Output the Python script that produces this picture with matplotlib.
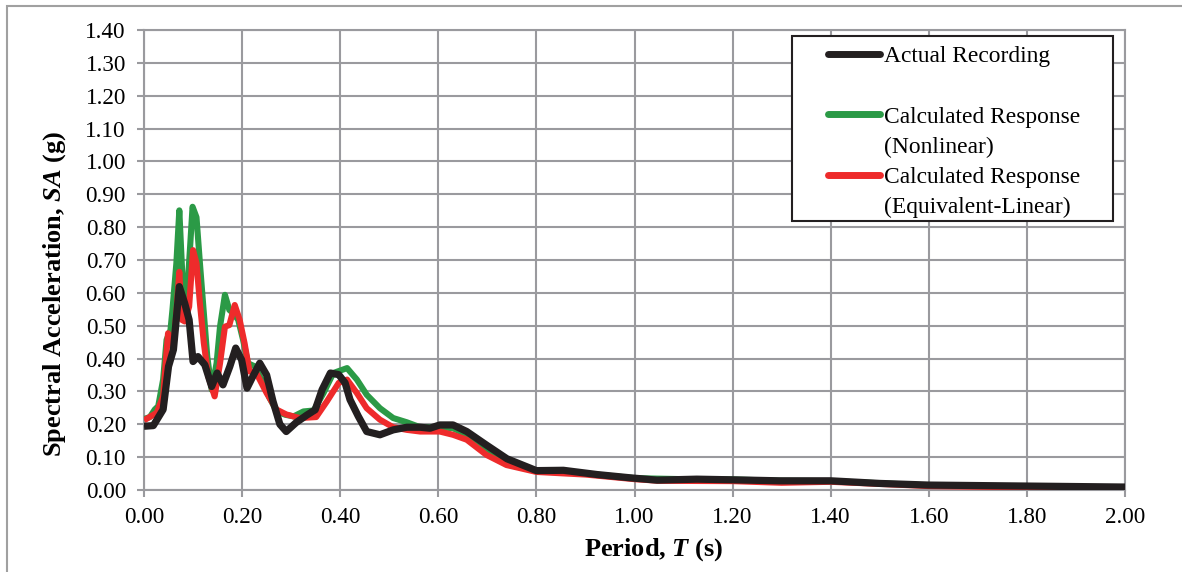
"""
Spectral acceleration response spectra: actual recording vs. calculated
(nonlinear and equivalent-linear) site response.
"""

import matplotlib
matplotlib.use("Agg")
import matplotlib.pyplot as plt
from matplotlib.lines import Line2D
from matplotlib.patches import Rectangle

plt.rcParams["font.family"] = ["Liberation Serif", "DejaVu Serif"]
plt.rcParams["mathtext.fontset"] = "custom"
plt.rcParams["mathtext.rm"] = "Liberation Serif"
plt.rcParams["mathtext.it"] = "Liberation Serif:italic"
plt.rcParams["mathtext.bf"] = "Liberation Serif:bold"
plt.rcParams["mathtext.bfit"] = "Liberation Serif:bold:italic"

# Actual recording
t_actual = [0.0, 0.019, 0.039, 0.05, 0.06, 0.072, 0.083, 0.092, 0.100, 0.110,
            0.124, 0.138, 0.149, 0.161, 0.175, 0.187, 0.199, 0.21, 0.222, 0.236,
            0.25, 0.263, 0.277, 0.29, 0.31, 0.332, 0.349, 0.363, 0.38, 0.397,
            0.41, 0.42, 0.437, 0.454, 0.481, 0.508, 0.536, 0.563, 0.583, 0.603,
            0.63, 0.658, 0.698, 0.74, 0.8, 0.855, 0.924, 0.992, 1.046, 1.127,
            1.2, 1.295, 1.4, 1.5, 1.6, 1.8, 2.0]
sa_actual = [0.194, 0.196, 0.245, 0.376, 0.427, 0.619, 0.568, 0.518, 0.391, 0.406,
             0.381, 0.315, 0.356, 0.32, 0.376, 0.432, 0.396, 0.31, 0.346, 0.386,
             0.35, 0.27, 0.2, 0.178, 0.205, 0.228, 0.244, 0.305, 0.356, 0.351,
             0.326, 0.275, 0.224, 0.178, 0.168, 0.183, 0.191, 0.191, 0.188, 0.198,
             0.198, 0.178, 0.137, 0.095, 0.059, 0.06, 0.047, 0.037, 0.03, 0.033,
             0.031, 0.028, 0.028, 0.02, 0.015, 0.012, 0.009]

# Calculated response (nonlinear)
t_nonlin = [0.0, 0.012, 0.022, 0.029, 0.039, 0.046, 0.054, 0.058, 0.066, 0.072,
            0.077, 0.081, 0.088, 0.094, 0.099, 0.107, 0.114, 0.122, 0.129, 0.138,
            0.148, 0.155, 0.165, 0.174, 0.182, 0.192, 0.202, 0.212, 0.226, 0.243,
            0.256, 0.271, 0.288, 0.305, 0.325, 0.346, 0.366, 0.386, 0.414, 0.434,
            0.454, 0.481, 0.508, 0.536, 0.563, 0.603, 0.63, 0.658, 0.698, 0.739,
            0.8, 0.9, 1.0, 1.1, 1.2, 1.3, 1.4, 1.6, 1.8, 2.0]
sa_nonlin = [0.216, 0.222, 0.245, 0.255, 0.336, 0.457, 0.487, 0.548, 0.69, 0.851,
             0.69, 0.578, 0.6, 0.74, 0.862, 0.83, 0.69, 0.538, 0.406, 0.305,
             0.386, 0.497, 0.594, 0.548, 0.538, 0.518, 0.457, 0.386, 0.376, 0.326,
             0.28, 0.239, 0.229, 0.224, 0.239, 0.242, 0.295, 0.356, 0.371, 0.336,
             0.29, 0.249, 0.219, 0.206, 0.191, 0.191, 0.188, 0.168, 0.127, 0.087,
             0.057, 0.05, 0.036, 0.033, 0.032, 0.028, 0.027, 0.014, 0.01, 0.008]

# Calculated response (equivalent-linear)
t_eqlin = [0.0, 0.026, 0.039, 0.049, 0.06, 0.066, 0.072, 0.077, 0.083, 0.092,
           0.1, 0.107, 0.114, 0.122, 0.131, 0.144, 0.155, 0.165, 0.174, 0.185,
           0.195, 0.205, 0.215, 0.229, 0.25, 0.27, 0.29, 0.317, 0.351, 0.373,
           0.397, 0.414, 0.434, 0.454, 0.481, 0.508, 0.536, 0.563, 0.603, 0.63,
           0.658, 0.698, 0.739, 0.8, 0.9, 1.0, 1.05, 1.2, 1.3, 1.4,
           1.6, 1.8, 2.0]
sa_eqlin = [0.212, 0.235, 0.285, 0.477, 0.437, 0.538, 0.664, 0.518, 0.513, 0.558,
            0.73, 0.69, 0.568, 0.447, 0.346, 0.285, 0.386, 0.497, 0.502, 0.563,
            0.518, 0.447, 0.361, 0.356, 0.295, 0.245, 0.23, 0.219, 0.222, 0.27,
            0.326, 0.336, 0.295, 0.249, 0.214, 0.191, 0.183, 0.178, 0.178, 0.168,
            0.153, 0.107, 0.076, 0.055, 0.047, 0.033, 0.028, 0.027, 0.022, 0.025,
            0.012, 0.008, 0.006]

x_ticks = [0.0, 0.2, 0.4, 0.6, 0.8, 1.0, 1.2, 1.4, 1.6, 1.8, 2.0]
y_ticks = [0.0, 0.1, 0.2, 0.3, 0.4, 0.5, 0.6, 0.7, 0.8, 0.9, 1.0, 1.1, 1.2, 1.3, 1.4]

BLACK = "#231f20"
GREEN = "#2b9a46"
RED = "#ee2b2b"
GRID = "#9a9a9e"

W, H = 1182, 572
fig = plt.figure(figsize=(W / 100, H / 100), dpi=100)
ax = fig.add_axes([144 / W, 1 - 490 / H, 981 / W, 460 / H])

# outer frame of the figure (only left/top edges visible)
fig.patches.append(Rectangle((7 / W, -0.1), 1.2, 1 - 6 / H + 0.1,
                             transform=fig.transFigure, fill=False,
                             edgecolor="#a0a0a0", lw=1.5))

kw = dict(solid_joinstyle="round", solid_capstyle="butt", zorder=3)
ax.plot(t_nonlin, sa_nonlin, color=GREEN, lw=4.4, **kw)
ax.plot(t_eqlin, sa_eqlin, color=RED, lw=4.4, **kw)
ax.plot(t_actual, sa_actual, color=BLACK, lw=5.2, **kw)

ax.set_xlim(0, 2.0)
ax.set_ylim(0, 1.4)
ax.set_xticks(x_ticks)
ax.set_yticks(y_ticks)
ax.set_xticklabels([f"{v:.2f}" for v in x_ticks])
ax.set_yticklabels([f"{v:.2f}" for v in y_ticks])
ax.tick_params(labelsize=16.7, color=GRID, width=1.5, length=5)
ax.tick_params(axis="y", pad=8)
ax.tick_params(axis="x", pad=7)
ax.grid(True, color=GRID, lw=1.5, zorder=0)
ax.set_axisbelow(True)
for s in ax.spines.values():
    s.set_color(GRID)
    s.set_linewidth(1.5)

ax.set_xlabel(r"Period, $\mathbfit{T}$ (s)", fontsize=19, fontweight="bold")
ax.set_ylabel(r"Spectral Acceleration, $\mathbfit{SA}$ (g)", fontsize=19,
              fontweight="bold")
ax.xaxis.set_label_coords(510 / 981, -46 / 460)
ax.yaxis.set_label_coords(-76 / 981, 196 / 460)

# legend: frame drawn separately so the wide side padding can be matched
ax.add_patch(Rectangle((648 / 981, 269 / 460), 321 / 981, 185 / 460,
                       transform=ax.transAxes, facecolor="white",
                       edgecolor=BLACK, lw=1.5, zorder=4))
handles = [
    Line2D([], [], color=BLACK, lw=5, solid_capstyle="round"),
    Line2D([], [], color="none"),
    Line2D([], [], color=GREEN, lw=5, solid_capstyle="round"),
    Line2D([], [], color="none"),
    Line2D([], [], color=RED, lw=5, solid_capstyle="round"),
    Line2D([], [], color="none"),
]
labels = ["Actual Recording", " ", "Calculated Response", "(Nonlinear)",
          "Calculated Response", "(Equivalent-Linear)"]
leg = ax.legend(handles, labels, loc="upper left",
                bbox_to_anchor=(684 / 981, 444 / 460),
                fontsize=16.9, frameon=False,
                handlelength=2.2, handletextpad=0.17, labelspacing=0.37,
                borderpad=0.0, borderaxespad=0.0)
leg.set_zorder(5)

fig.savefig("out.png", dpi=100)
